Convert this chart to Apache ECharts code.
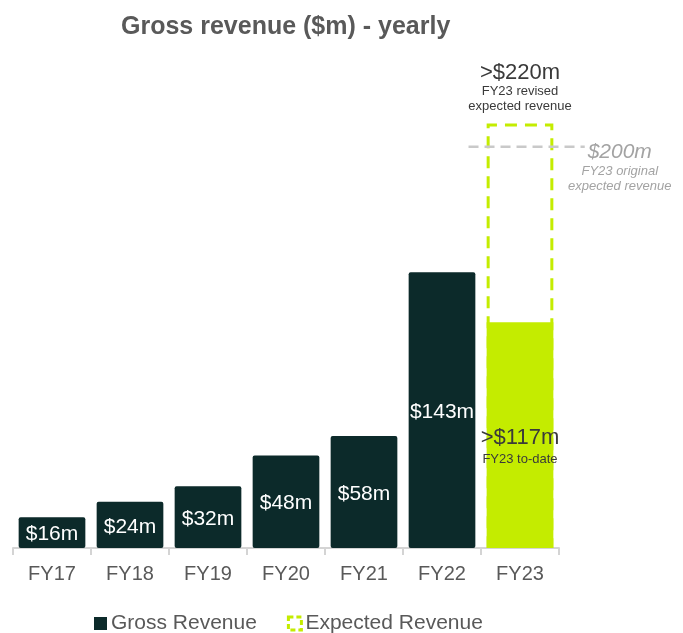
<!DOCTYPE html>
<html>
<head>
<meta charset="utf-8">
<script src="https://cdn.jsdelivr.net/npm/echarts@6/dist/echarts.min.js"></script>
<style>
  html, body { margin: 0; padding: 0; background: #fff; }
  #main { width: 683px; height: 633px; }
</style>
</head>
<body>
<div id="main"></div>
<script>
// data
var years = ['FY17', 'FY18', 'FY19', 'FY20', 'FY21', 'FY22', 'FY23'];
var grossRevenue = [16, 24, 32, 48, 58, 143, '-'];
var revisedExpected = ['-', '-', '-', '-', '-', '-', 220];
var toDate = ['-', '-', '-', '-', '-', '-', 117];
// original expectation reference line (drawn level, span in category units)
var originalLevel = 208;
var originalSpan = [5.84, 7.33];

var dark = '#0c2a2a';
var lime = '#c4ec00';
var grey = '#595959';

var myChart = echarts.init(document.getElementById('main'));

myChart.setOption({
    animation: false,
    textStyle: { fontFamily: 'Liberation Sans' },
    title: {
        text: 'Gross revenue ($m) - yearly',
        left: 116,
        top: 10,
        textStyle: { fontSize: 25, fontWeight: 'bold', color: grey, fontFamily: 'Liberation Sans' }
    },
    legend: {
        left: 89,
        top: 608,
        itemWidth: 13,
        itemHeight: 13,
        itemGap: 30,
        textStyle: { fontSize: 21, color: grey, padding: [0, 0, 0, -1] },
        data: [
            { name: 'Gross Revenue', icon: 'rect', itemStyle: { color: dark } },
            { name: 'Expected Revenue', icon: 'rect',
              itemStyle: { color: 'rgba(0,0,0,0)', borderColor: lime, borderWidth: 3, borderType: [5, 3] } }
        ]
    },
    grid: [
        { left: 13, right: 124, top: 85, bottom: 85 },
        { left: 13, right: 85, top: 85, bottom: 85 }
    ],
    xAxis: [
        {
            type: 'category',
            data: years,
            axisLine: { lineStyle: { color: '#d4d4d4', width: 2 } },
            axisTick: { show: true, length: 7, lineStyle: { color: '#d4d4d4', width: 2 } },
            axisLabel: { fontSize: 20, color: grey, margin: 16 }
        },
        { type: 'value', gridIndex: 1, min: 0, max: 7.5, show: false }
    ],
    yAxis: [
        { type: 'value', min: 0, max: 240, show: false },
        { type: 'value', gridIndex: 1, min: 0, max: 240, show: false }
    ],
    series: [
        {
            name: 'Gross Revenue',
            type: 'bar',
            data: grossRevenue,
            barGap: '-100%',
            barCategoryGap: '14.5%',
            itemStyle: { color: dark, borderRadius: 2 },
            label: {
                show: true,
                position: 'inside',
                offset: [0, 2],
                color: '#fff',
                fontSize: 21,
                formatter: '${c}m'
            }
        },
        {
            name: 'Expected Revenue',
            type: 'bar',
            data: revisedExpected,
            itemStyle: { color: 'rgba(0,0,0,0)', borderColor: lime, borderWidth: 3, borderType: [12, 8] },
            label: {
                show: true,
                position: 'top',
                distance: 10,
                formatter: '{a|>${c}m}\n{b|FY23 revised}\n{b|expected revenue}',
                rich: {
                    a: { fontSize: 22, lineHeight: 22, color: '#3a3a3a' },
                    b: { fontSize: 13, lineHeight: 15, color: '#3a3a3a' }
                }
            }
        },
        {
            name: 'To date',
            type: 'bar',
            data: toDate,
            itemStyle: { color: lime },
            label: {
                show: true,
                position: 'inside',
                offset: [0, 12],
                formatter: '{a|>${c}m}\n{b|FY23 to-date}',
                rich: {
                    a: { fontSize: 22, lineHeight: 24, color: '#3a3a3a' },
                    b: { fontSize: 13, lineHeight: 18, color: '#3a3a3a' }
                }
            }
        },
        {
            name: 'Original',
            type: 'line',
            xAxisIndex: 1,
            yAxisIndex: 1,
            symbol: 'circle',
            symbolSize: 0,
            lineStyle: { color: '#c9c9c9', width: 2.5, type: [10, 6] },
            data: [
                [originalSpan[0], originalLevel],
                {
                    value: [originalSpan[1], originalLevel],
                    label: {
                        show: true,
                        position: [35, -7],
                        align: 'center',
                        verticalAlign: 'top',
                        formatter: '{a|$200m}\n{b|FY23 original}\n{b|expected revenue}',
                        rich: {
                            a: { fontSize: 21, lineHeight: 24, fontStyle: 'italic', color: '#a3a3a3' },
                            b: { fontSize: 13, lineHeight: 15, fontStyle: 'italic', color: '#a3a3a3' }
                        }
                    }
                }
            ]
        }
    ]
});
</script>
</body>
</html>
